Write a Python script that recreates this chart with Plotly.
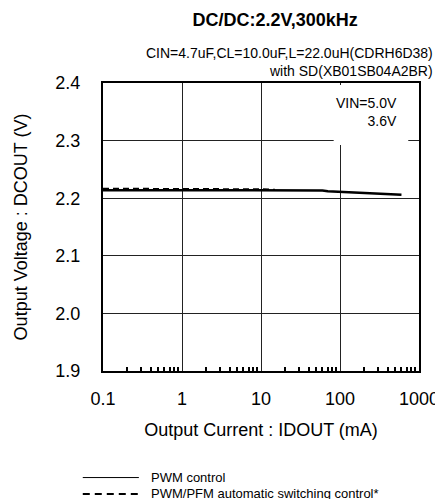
import plotly.graph_objects as go

# Output current (mA) vs output voltage (V)
iout_pwm = [0.1, 0.3, 1, 3, 10, 30, 60, 70, 100, 200, 400, 600]
vout_pwm = [2.214, 2.214, 2.214, 2.214, 2.214, 2.2138, 2.2135, 2.212, 2.211, 2.209, 2.207, 2.206]

iout_auto = [0.1, 0.3, 1, 3, 10, 15]
vout_auto = [2.2165, 2.2165, 2.2163, 2.216, 2.2155, 2.2145]

x_ticks = [0.1, 1, 10, 100, 1000]
x_labels = ['0.1', '1', '10', '100', '1000']
x_minor = [m * d for d in [0.1, 1, 10, 100] for m in range(2, 10)]
y_ticks = [1.9, 2.0, 2.1, 2.2, 2.3, 2.4]

font = 'Liberation Sans, Arial, sans-serif'

fig = go.Figure()
fig.add_trace(go.Scatter(x=iout_pwm, y=vout_pwm, mode='lines', name='PWM control',
                         showlegend=False, line=dict(color='black', width=2.5)))
fig.add_trace(go.Scatter(x=iout_auto, y=vout_auto, mode='lines',
                         name='PWM/PFM automatic switching control*',
                         showlegend=False, line=dict(color='black', width=2, dash='6px,4px')))

# white box behind VIN label
fig.add_shape(type='rect', xref='paper', yref='paper', x0=0.730, x1=0.966, y0=0.785, y1=0.993,
              fillcolor='white', line=dict(width=0), layer='above')
fig.add_annotation(xref='paper', yref='paper', x=0.936, y=0.8976, xanchor='right', yanchor='middle',
                   align='right', showarrow=False, text='VIN=5.0V<br>3.6V',
                   font=dict(size=14, color='black', family=font))

# subtitle
fig.add_annotation(xref='paper', yref='paper', x=1.052, y=1.104, xanchor='right', yanchor='middle',
                   showarrow=False, text='CIN=4.7uF,CL=10.0uF,L=22.0uH(CDRH6D38)',
                   font=dict(size=14, color='black', family=font))
fig.add_annotation(xref='paper', yref='paper', x=1.052, y=1.042, xanchor='right', yanchor='middle',
                   showarrow=False, text='with SD(XB01SB04A2BR)',
                   font=dict(size=14, color='black', family=font))

# legend drawn below the chart
fig.add_shape(type='line', xref='paper', yref='paper', x0=-0.064, x1=0.1135, y0=-0.37, y1=-0.37,
              line=dict(color='black', width=1))
fig.add_shape(type='line', xref='paper', yref='paper', x0=-0.064, x1=0.1135, y0=-0.427, y1=-0.427,
              line=dict(color='black', width=2, dash='7px,5px'))
fig.add_annotation(xref='paper', yref='paper', x=0.144, y=-0.37, xanchor='left', yanchor='middle',
                   showarrow=False, text='PWM control', font=dict(size=13, color='black', family=font))
fig.add_annotation(xref='paper', yref='paper', x=0.144, y=-0.427, xanchor='left', yanchor='middle',
                   showarrow=False, text='PWM/PFM automatic switching control*',
                   font=dict(size=13, color='black', family=font))

fig.update_layout(
    width=443, height=499,
    margin=dict(l=90, r=27, t=75, b=136),
    paper_bgcolor='white', plot_bgcolor='white',
    font=dict(family=font, color='black'),
    title=dict(text='<b>DC/DC:2.2V,300kHz</b>', x=0.603, xanchor='center', y=0.976, yanchor='middle',
               font=dict(size=18, color='black', family=font)),
    xaxis=dict(
        type='log', range=[-1, 3],
        tickvals=x_ticks, ticktext=x_labels,
        ticks='outside', ticklen=10, tickcolor='rgba(0,0,0,0)',
        tickfont=dict(size=18),
        showgrid=True, gridcolor='#222', gridwidth=1,
        showline=True, linecolor='black', linewidth=2, mirror=True,
        minor=dict(tickvals=x_minor, ticks='inside', ticklen=4, tickwidth=1.5, tickcolor='black', showgrid=False),
        zeroline=False,
        title=dict(text='Output Current : IDOUT (mA)', font=dict(size=18), standoff=16),
    ),
    yaxis=dict(
        range=[1.9, 2.4], tickvals=y_ticks, tickformat='.1f',
        ticks='outside', ticklen=17, tickcolor='rgba(0,0,0,0)',
        tickfont=dict(size=18),
        showgrid=True, gridcolor='#222', gridwidth=1,
        showline=True, linecolor='black', linewidth=2, mirror=True,
        zeroline=False,
        title=dict(text='Output Voltage : DCOUT (V)', font=dict(size=18), standoff=23),
    ),
)
fig.write_html('out.html')
